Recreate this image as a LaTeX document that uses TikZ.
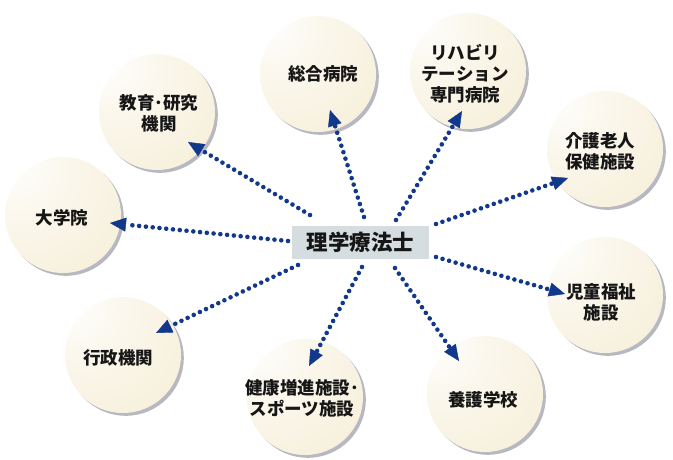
\documentclass[tikz,border=0pt]{standalone}
\usepackage{fontspec}
\newfontfamily\jp{Noto Sans CJK JP}
\usetikzlibrary{arrows.meta,shadows}
\definecolor{dotblue}{HTML}{12388C}
\definecolor{boxfill}{HTML}{D6DDE0}
\definecolor{cA}{HTML}{F6EFDA}
\definecolor{cB}{HTML}{EADCAF}
\definecolor{cC}{HTML}{DAC78C}
\definecolor{shadowc}{HTML}{B8B8C2}
\definecolor{txt}{HTML}{161616}
\pgfdeclareradialshading{ballshade}{\pgfpoint{-24bp}{24bp}}{color(0bp)=(white); color(20bp)=(white!50!cA); color(48bp)=(cA); color(76bp)=(cB); color(100bp)=(cC)}
\begin{document}
\begin{tikzpicture}[x=1pt,y=-1pt,
  bubble/.style={circle, minimum size=116pt, inner sep=0pt, shading=ballshade,
    drop shadow={shadow xshift=2.8pt, shadow yshift=-2.8pt, fill=shadowc, opacity=1}},
  btext/.style={font=\jp\bfseries\fontsize{17.5}{21}\selectfont, text=txt, align=center, inner sep=0pt},
  hub/.style={fill=boxfill, minimum width=137pt, minimum height=33pt, inner sep=0pt,
    font=\jp\bfseries\fontsize{21.5}{24}\selectfont, text=txt},
  conn/.style={draw=dotblue, line width=4.6pt, line cap=round, dash pattern=on 0pt off 6.8pt,
    -{Triangle[length=16pt,width=14pt,line width=0.4pt]}}
]
\useasboundingbox (0,0) rectangle (673,459);
% bubbles
\node[bubble] (sogo) at (318,74) {};
\node[bubble] (reha) at (468,71) {};
\node[bubble] (kyoiku) at (157,112) {};
\node[bubble] (kaigo) at (605,149) {};
\node[bubble] (daigaku) at (63,215) {};
\node[bubble] (jido) at (605,295) {};
\node[bubble] (gyosei) at (123,355) {};
\node[bubble] (kenko) at (305,397) {};
\node[bubble] (yogo) at (485,394) {};
% texts
\node[btext] (tsogo) at (323,74) {総合病院};
\node[btext] (treha) at (465,74) {リハビリ\\テーション\\専門病院};
\node[btext] (tkyoiku) at (159,113) {教育･研究\\機関};
\node[btext] (tkaigo) at (600,151) {介護老人\\保健施設};
\node[btext] (tdaigaku) at (62,218) {大学院};
\node[btext] (tjido) at (601,302) {児童福祉\\施設};
\node[btext] (tgyosei) at (118,358) {行政機関};
\node[btext] (tkenko) at (302,398) {健康増進施設･\\スポーツ施設};
\node[btext] (tyogo) at (483,400) {養護学校};
% hub
\node[hub] (pt) at (360.5,242.5) {理学療法士};
% connector ends
\coordinate (s1) at (364,217); \coordinate (e1) at (330,110);
\coordinate (s2) at (396,220); \coordinate (e2) at (462,111);
\coordinate (s3) at (310,215); \coordinate (e3) at (188,142);
\coordinate (s4) at (436,224); \coordinate (e4) at (568,178);
\coordinate (s5) at (288,241); \coordinate (e5) at (110,223);
\coordinate (s6) at (436,257); \coordinate (e6) at (565,294);
\coordinate (s7) at (298,265); \coordinate (e7) at (156,333);
\coordinate (s8) at (362,267); \coordinate (e8) at (309,366);
\coordinate (s9) at (395,268); \coordinate (e9) at (459,361);
\foreach \i in {1,...,9} \draw[conn] (s\i) -- (e\i);
\end{tikzpicture}
\end{document}
